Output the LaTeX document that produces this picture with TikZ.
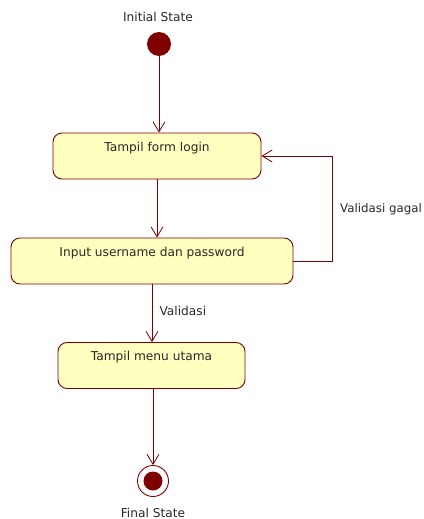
\documentclass[tikz,border=0pt]{standalone}
\usepackage{fontspec}
\setmainfont{DejaVu Sans}
\usetikzlibrary{arrows.meta}

\definecolor{umlred}{RGB}{128,0,0}
\definecolor{umlfill}{RGB}{255,255,192}
\definecolor{umltext}{RGB}{40,40,40}

\tikzset{
  statebox/.style={draw=umlred, fill=umlfill, rounded corners=9pt, line width=0.9pt,
    inner sep=0pt, text height=18pt, text depth=28pt, text=umltext, font=\fontsize{12.2}{14}\selectfont},
  trans/.style={draw=umlred, line width=0.8pt, -{Straight Barb[length=10pt,width=12pt]}},
  caption/.style={text=umltext, font=\fontsize{12.2}{14}\selectfont}
}

\begin{document}
\begin{tikzpicture}[x=1pt,y=-1pt]
\useasboundingbox (0,0) rectangle (423,519);

\node[caption] (initlabel) at (158,17) {Initial State};
\node[circle, fill=umlred, minimum size=24pt, inner sep=0pt] (init) at (159,44) {};

\node[statebox, minimum width=208pt] (form) at (157,156) {Tampil form login};
\node[statebox, minimum width=282pt] (input) at (152,261) {Input username dan password};
\node[statebox, minimum width=187pt] (menu) at (151.5,365.5) {Tampil menu utama};

\node[circle, draw=umlred, line width=0.9pt, fill=white, minimum size=31pt, inner sep=0pt] (final) at (153,481) {};
\node[circle, fill=umlred, minimum size=19pt, inner sep=0pt] at (final) {};
\node[caption] (finallabel) at (153,513) {Final State};

\draw[trans] (init) -- (init |- form.north);
\draw[trans] (form.south) -- (input.north -| form.south);
\draw[trans] (input.south) -- (menu.north -| input.south);
\draw[trans] (menu.south -| final) -- (final);
\draw[trans] (input.east) -- ++(39,0) |- (form.east);

\node[caption, anchor=east, inner sep=0pt, font=\fontsize{11.8}{14}\selectfont] (gagal) at (422,209) {Validasi gagal};
\node[caption, anchor=west] (valid) at (156,311) {Validasi};
\end{tikzpicture}
\end{document}
